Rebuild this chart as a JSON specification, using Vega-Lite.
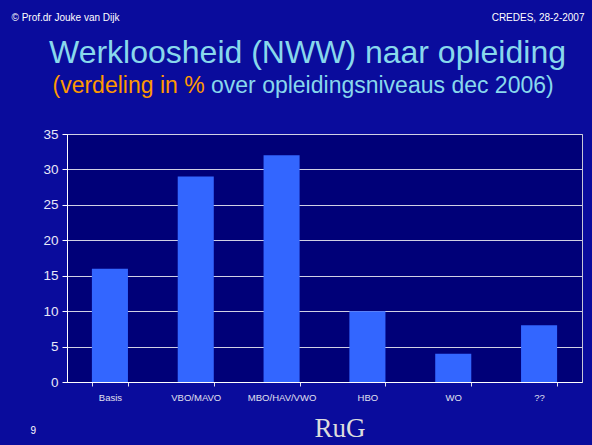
{
  "$schema": "https://vega.github.io/schema/vega-lite/v6.json",
  "autosize": {"type": "none"},
  "width": 515,
  "height": 248,
  "padding": {"left": 67, "top": 134, "right": 10, "bottom": 63},
  "background": "#0a0c9c",
  "data": {
    "values": [
      {"opleiding": "Basis", "pct": 16},
      {"opleiding": "VBO/MAVO", "pct": 29},
      {"opleiding": "MBO/HAV/VWO", "pct": 32},
      {"opleiding": "HBO", "pct": 10},
      {"opleiding": "WO", "pct": 4},
      {"opleiding": "??", "pct": 8}
    ]
  },
  "layer": [
    {
      "mark": {"type": "bar", "color": "#3366ff"},
      "encoding": {
        "x": {
          "field": "opleiding",
          "type": "nominal",
          "sort": null,
          "scale": {"paddingInner": 0.58, "paddingOuter": 0.29},
          "axis": {
            "orient": "bottom",
            "title": "over opleidingsniveaus dec 2006)",
            "titleColor": "#88d8ec",
            "titleFont": "Liberation Sans",
            "titleFontSize": 23,
            "titleFontWeight": "normal",
            "titleAlign": "left",
            "titleBaseline": "alphabetic",
            "titleAnchor": "start",
            "titleX": 143.5,
            "titleY": -290,
            "labelAngle": 0,
            "labelFont": "Liberation Sans",
            "labelFontSize": 9.5,
            "labelColor": "#e0e0f0",
            "labelPadding": 6,
            "tickBand": "extent",
            "tickSize": 4,
            "tickColor": "#e0e0f0",
            "domainColor": "#ffffff",
            "grid": false
          }
        },
        "y": {
          "field": "pct",
          "type": "quantitative",
          "scale": {"domain": [0, 35], "nice": false},
          "axis": {
            "orient": "left",
            "values": [0, 5, 10, 15, 20, 25, 30, 35],
            "title": "© Prof.dr Jouke van Dijk",
            "titleColor": "#ffffff",
            "titleFont": "Liberation Sans",
            "titleFontSize": 10,
            "titleFontWeight": "normal",
            "titleAngle": 0,
            "titleAlign": "left",
            "titleBaseline": "alphabetic",
            "titleAnchor": "start",
            "titleX": -56,
            "titleY": -114,
            "labelFont": "Liberation Sans",
            "labelFontSize": 13.5,
            "labelColor": "#e8e8f8",
            "labelPadding": 4,
            "tickSize": 5,
            "tickColor": "#ffffff",
            "domainColor": "#ffffff",
            "grid": true,
            "gridColor": "#d0d0e4",
            "gridOpacity": 1
          }
        }
      }
    },
    {
      "mark": {"type": "bar", "color": "#3366ff", "opacity": 0},
      "encoding": {
        "x": {
          "field": "opleiding",
          "type": "nominal",
          "sort": null,
          "axis": {
            "orient": "top",
            "title": "Werkloosheid (NWW) naar opleiding",
            "titleColor": "#88d8ec",
            "titleFont": "Liberation Sans",
            "titleFontSize": 32,
            "titleFontWeight": "normal",
            "titleAlign": "center",
            "titleBaseline": "alphabetic",
            "titleAnchor": "start",
            "titleX": 240,
            "titleY": -72,
            "labels": false,
            "ticks": false,
            "domain": false,
            "grid": false
          }
        },
        "y": {
          "field": "pct",
          "type": "quantitative",
          "axis": {
            "orient": "right",
            "title": "CREDES, 28-2-2007",
            "titleColor": "#ffffff",
            "titleFont": "Liberation Sans",
            "titleFontSize": 10,
            "titleFontWeight": "normal",
            "titleAngle": 0,
            "titleAlign": "right",
            "titleBaseline": "alphabetic",
            "titleAnchor": "start",
            "titleX": 2,
            "titleY": -114,
            "labels": false,
            "ticks": false,
            "domain": false,
            "grid": false
          }
        }
      }
    },
    {
      "mark": {"type": "bar", "color": "#3366ff", "opacity": 0},
      "encoding": {
        "x": {
          "field": "opleiding",
          "type": "nominal",
          "sort": null,
          "axis": {
            "orient": "bottom",
            "title": "(verdeling in %",
            "titleColor": "#ff9900",
            "titleFont": "Liberation Sans",
            "titleFontSize": 23,
            "titleFontWeight": "normal",
            "titleAlign": "left",
            "titleBaseline": "alphabetic",
            "titleAnchor": "start",
            "titleX": -15,
            "titleY": -290,
            "labels": false,
            "ticks": false,
            "domain": false,
            "grid": false
          }
        },
        "y": {
          "field": "pct",
          "type": "quantitative",
          "axis": {
            "orient": "left",
            "title": "9",
            "titleColor": "#ffffff",
            "titleFont": "Liberation Sans",
            "titleFontSize": 10,
            "titleFontWeight": "normal",
            "titleAngle": 0,
            "titleAlign": "left",
            "titleBaseline": "alphabetic",
            "titleAnchor": "start",
            "titleX": -37,
            "titleY": 299,
            "labels": false,
            "ticks": false,
            "domain": false,
            "grid": false
          }
        }
      }
    },
    {
      "mark": {"type": "bar", "color": "#3366ff", "opacity": 0},
      "encoding": {
        "x": {
          "field": "opleiding",
          "type": "nominal",
          "sort": null,
          "axis": {
            "orient": "bottom",
            "title": "RuG",
            "titleColor": "#dcdcdc",
            "titleFont": "Liberation Serif",
            "titleFontSize": 27,
            "titleFontWeight": "normal",
            "titleAlign": "center",
            "titleBaseline": "alphabetic",
            "titleAnchor": "start",
            "titleX": 272.5,
            "titleY": 54,
            "labels": false,
            "ticks": false,
            "domain": false,
            "grid": false
          }
        },
        "y": {"field": "pct", "type": "quantitative", "axis": null}
      }
    }
  ],
  "resolve": {"axis": {"x": "independent", "y": "independent"}},
  "config": {
    "view": {"fill": "#000078", "stroke": "#c8c8d8"}
  }
}
